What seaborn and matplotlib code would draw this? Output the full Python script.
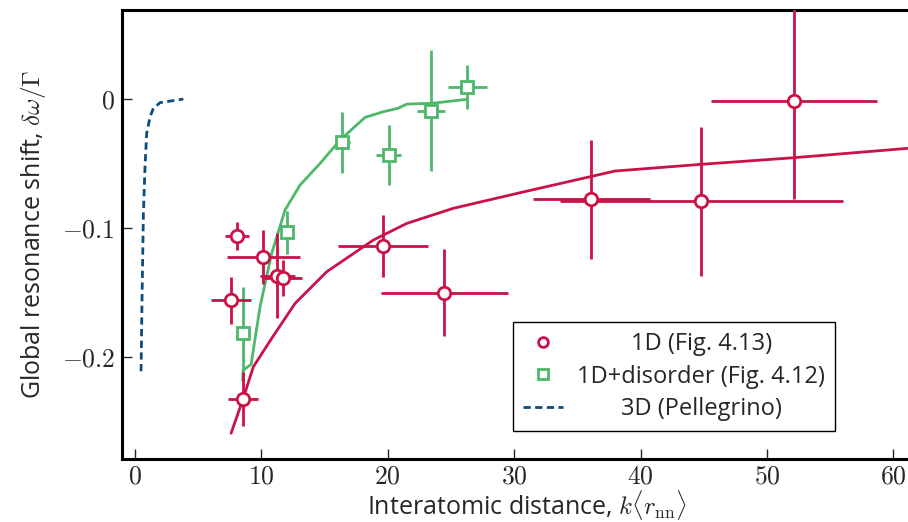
import matplotlib
matplotlib.use("Agg")
import matplotlib.pyplot as plt
from matplotlib.lines import Line2D
from matplotlib.ticker import FuncFormatter
import numpy as np
import pandas as pd
import seaborn as sns

# measured points, 1D chain (Fig. 4.13)
x_1d = [8.07, 7.6, 10.15, 11.26, 11.73, 8.52, 19.6, 24.47, 36.1, 44.8, 52.13]
y_1d = [-0.106, -0.156, -0.1225, -0.137, -0.139, -0.2326, -0.114, -0.150, -0.0778, -0.0793, -0.0013]
xerr_1d = [0.97, 1.58, 2.87, 1.4, 1.5, 1.19, 3.58, 5.04, 4.64, 11.2, 6.6]
yerr_1d = [0.0107, 0.018, 0.0207, 0.033, 0.014, 0.021, 0.024, 0.034, 0.046, 0.0576, 0.076]

# measured points, 1D + disorder (Fig. 4.12)
x_dis = [8.51, 12.0, 16.4, 20.07, 23.4, 26.3]
y_dis = [-0.1817, -0.1034, -0.0336, -0.0434, -0.009, 0.009]
xerr_dis = [0.3, 0.3, 0.6, 1.0, 1.1, 1.57]
yerr_dis = [0.0364, 0.017, 0.0236, 0.023, 0.047, 0.017]

# theory curves
x_th_1d = [7.6, 8.56, 9.36, 10.81, 12.66, 15.16, 18.85, 21.5, 25.18, 30.46, 37.97, 44.8, 52.1, 61.15, 63.5]
y_th_1d = [-0.259, -0.232, -0.2075, -0.1855, -0.1584, -0.1339, -0.1093, -0.0964, -0.0847,
           -0.0726, -0.0558, -0.0506, -0.0455, -0.0382, -0.0365]
x_th_dis = [8.51, 8.56, 9.18, 9.89, 10.81, 11.87, 13.05, 14.64, 16.22, 18.2, 19.65, 20.8,
            21.5, 23.5, 26.2]
y_th_dis = [-0.218, -0.210, -0.2057, -0.161, -0.1196, -0.086, -0.0667, -0.0499, -0.0318,
            -0.0142, -0.0098, -0.0072, -0.0039, -0.0033, -0.0003]
x_3d = [0.475, 0.55, 0.66, 0.79, 0.92, 1.19, 1.45, 1.98, 3.82]
y_3d = [-0.211, -0.156, -0.0886, -0.052, -0.0266, -0.0137, -0.0072, -0.0028, 0.0]

labels = ["1D (Fig. 4.13)", "1D+disorder (Fig. 4.12)", "3D (Pellegrino)"]

RED = "#CA1148"
GREEN = "#4DB86A"
BLUE = "#0B4C78"

sns.set_style("ticks")
plt.rcParams["font.family"] = ["Open Sans", "DejaVu Sans"]
plt.rcParams["mathtext.fontset"] = "cm"

fig = plt.figure(figsize=(9.08, 5.22), dpi=100)
# axes runs a bit past the right edge of the figure, as in the original
ax = fig.add_axes([0.1344, 0.1207, 0.892, 0.8601])

theory = pd.concat([
    pd.DataFrame({"x": x_th_1d, "y": y_th_1d, "model": "1d"}),
    pd.DataFrame({"x": x_th_dis, "y": y_th_dis, "model": "dis"}),
])
sns.lineplot(data=theory, x="x", y="y", hue="model", palette={"1d": RED, "dis": GREEN},
             sort=False, estimator=None, lw=2, legend=False, ax=ax, zorder=2)
sns.lineplot(x=x_3d, y=y_3d, color=BLUE, lw=2, sort=False, estimator=None,
             linestyle=(0, (2.6, 1.6)), ax=ax, zorder=2)

ax.errorbar(x_dis, y_dis, xerr=xerr_dis, yerr=yerr_dis, fmt="s", color=GREEN,
            mfc="white", mec=GREEN, ms=8, mew=2, elinewidth=2, capsize=0, zorder=3)
ax.errorbar(x_1d, y_1d, xerr=xerr_1d, yerr=yerr_1d, fmt="o", color=RED,
            mfc="white", mec=RED, ms=9, mew=2, elinewidth=2, capsize=0, zorder=4)

ax.set_xlim(-1.03, 63.05)
ax.set_ylim(-0.279, 0.069)
ax.set_xticks([0, 10, 20, 30, 40, 50, 60])
ax.set_yticks([-0.2, -0.1, 0])
ax.xaxis.set_major_formatter(FuncFormatter(lambda v, p: f"${v:g}$"))
ax.yaxis.set_major_formatter(FuncFormatter(lambda v, p: "$0$" if abs(v) < 1e-9 else f"${v:g}$"))
ax.tick_params(direction="in", length=7, width=1, labelsize=18.5)
ax.tick_params(axis="x", pad=4)
ax.tick_params(axis="y", pad=5)
ax.tick_params(top=False, right=False)
for side in ["left", "bottom", "top", "right"]:
    ax.spines[side].set_linewidth(2.2)
    ax.spines[side].set_color("black")

ax.set_xlabel(r"Interatomic distance, $k\langle r_\mathrm{nn}\rangle$", fontsize=18, labelpad=-1)
ax.set_ylabel(r"Global resonance shift, $\delta\omega/\Gamma$", fontsize=18, labelpad=10)

handles = [
    Line2D([], [], marker="o", ls="none", mfc="white", mec=RED, ms=7, mew=2),
    Line2D([], [], marker="s", ls="none", mfc="white", mec=GREEN, ms=7, mew=2),
    Line2D([], [], color=BLUE, lw=2, ls=(0, (2.6, 1.6))),
]
leg = ax.legend(handles, labels, loc="lower left", bbox_to_anchor=(0.4827, 0.0624),
                borderaxespad=0, fontsize=17, frameon=True, fancybox=False,
                edgecolor="black", framealpha=1, handlelength=1.7, handletextpad=0.6,
                borderpad=0.42, labelspacing=0.36)
leg.get_frame().set_linewidth(1)

# center the legend labels within their column
fig.canvas.draw()
widths = [t.get_window_extent().width for t in leg.get_texts()]
for t, w in zip(leg.get_texts(), widths):
    t.set_position(((max(widths) - w) / 2, 0))

fig.savefig("out.png", dpi=100)
